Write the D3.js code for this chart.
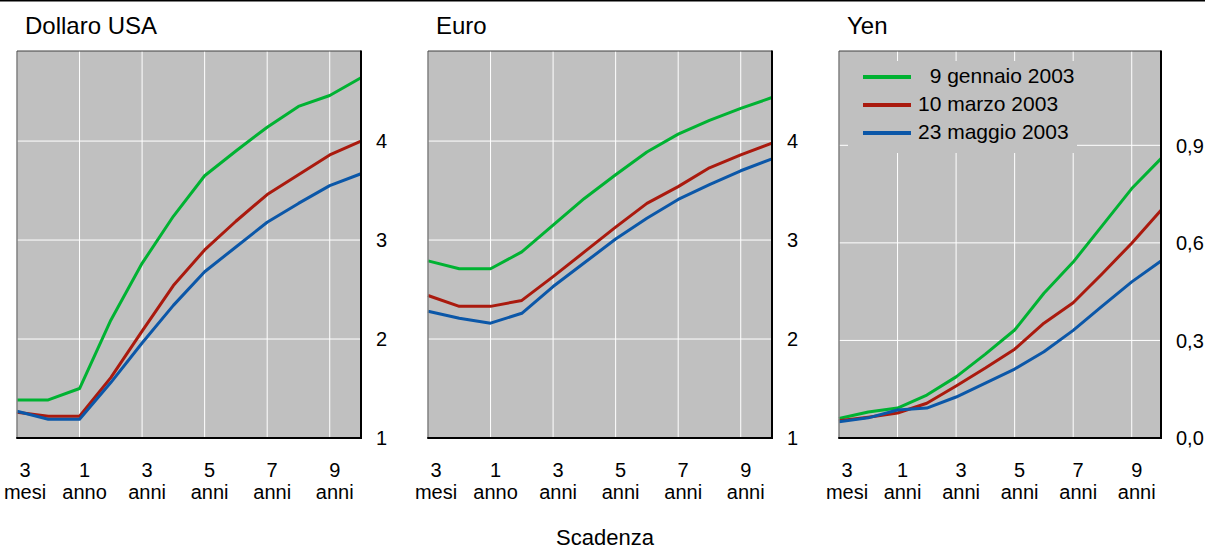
<!DOCTYPE html>
<html>
<head>
<meta charset="utf-8">
<script src="https://cdn.jsdelivr.net/npm/d3@7"></script>
<style>
  body { margin: 0; background: #fff; }
  svg { font-family: "Liberation Sans", Arial, sans-serif; }
</style>
</head>
<body>
<div id="chart"></div>
<script>
// maturities (12 points, equally spaced on the chart)
const maturities = ["3m", "6m", "1a", "2a", "3a", "4a", "5a", "6a", "7a", "8a", "9a", "10a"];
const tickIdx = [0, 2, 4, 6, 8, 10];
const tickTop = ["3", "1", "3", "5", "7", "9"];
const tickBottomUsd = ["mesi", "anno", "anni", "anni", "anni", "anni"];
const tickBottomYen = ["mesi", "anni", "anni", "anni", "anni", "anni"];

const dates = ["\u20079 gennaio 2003", "10 marzo 2003", "23 maggio 2003"];
const colors = ["#00b232", "#aa1a0e", "#0b57a8"];

// Dollaro USA
const usdJan = [1.385, 1.385, 1.50, 2.19, 2.765, 3.24, 3.65, 3.90, 4.14, 4.35, 4.46, 4.64];
const usdMar = [1.26, 1.22, 1.22, 1.61, 2.08, 2.54, 2.90, 3.19, 3.46, 3.66, 3.86, 4.00];
const usdMay = [1.27, 1.19, 1.19, 1.56, 1.96, 2.34, 2.68, 2.93, 3.18, 3.37, 3.55, 3.67];

// Euro
const eurJan = [2.79, 2.71, 2.71, 2.88, 3.15, 3.42, 3.66, 3.89, 4.07, 4.21, 4.33, 4.44];
const eurMar = [2.44, 2.33, 2.33, 2.39, 2.63, 2.88, 3.13, 3.37, 3.54, 3.73, 3.86, 3.98];
const eurMay = [2.28, 2.21, 2.16, 2.26, 2.53, 2.77, 3.01, 3.22, 3.41, 3.56, 3.70, 3.82];

// Yen
const yenJan = [0.060, 0.080, 0.092, 0.132, 0.188, 0.258, 0.332, 0.445, 0.541, 0.654, 0.767, 0.859];
const yenMar = [0.053, 0.064, 0.077, 0.107, 0.160, 0.215, 0.273, 0.353, 0.416, 0.506, 0.599, 0.700];
const yenMay = [0.050, 0.062, 0.086, 0.092, 0.126, 0.169, 0.212, 0.265, 0.331, 0.406, 0.480, 0.544];

const usdTicks = [1, 2, 3, 4];
const eurTicks = [1, 2, 3, 4];
const yenTicks = [0, 0.3, 0.6, 0.9];

const panels = [
  { title: "Dollaro USA", series: [usdJan, usdMar, usdMay], domain: [1, 4.91], ticks: usdTicks,
    fmt: d3.format("d"), bottom: tickBottomUsd, left: 17, width: 344 },
  { title: "Euro", series: [eurJan, eurMar, eurMay], domain: [1, 4.91], ticks: eurTicks,
    fmt: d3.format("d"), bottom: tickBottomUsd, left: 428, width: 344 },
  { title: "Yen", series: [yenJan, yenMar, yenMay], domain: [0, 1.19], ticks: yenTicks,
    fmt: d => d3.format(".1f")(d).replace(".", ","), bottom: tickBottomYen, left: 839, width: 322, legend: true }
];

const W = 1205, H = 551;
const plotTop = 51, plotBottom = 438;

const svg = d3.select("#chart").append("svg")
  .attr("width", W)
  .attr("height", H);

// top rule
svg.append("line")
  .attr("x1", 0).attr("x2", W).attr("y1", 0.75).attr("y2", 0.75)
  .attr("stroke", "#000").attr("stroke-width", 1.5);

panels.forEach(p => {
  const g = svg.append("g");
  const x = d3.scalePoint().domain(maturities).range([p.left, p.left + p.width]);
  const y = d3.scaleLinear().domain(p.domain).range([plotBottom, plotTop]);

  g.append("rect")
    .attr("x", p.left).attr("y", plotTop)
    .attr("width", p.width).attr("height", plotBottom - plotTop)
    .attr("fill", "#c0c0c0");

  // grid
  g.selectAll(".vgrid").data(tickIdx.slice(1)).enter().append("line")
    .attr("x1", i => x(maturities[i])).attr("x2", i => x(maturities[i]))
    .attr("y1", plotTop).attr("y2", plotBottom)
    .attr("stroke", "#fff").attr("stroke-width", 1);
  g.selectAll(".hgrid").data(p.ticks.slice(1)).enter().append("line")
    .attr("x1", p.left).attr("x2", p.left + p.width)
    .attr("y1", d => y(d)).attr("y2", d => y(d))
    .attr("stroke", "#fff").attr("stroke-width", 1);

  // legend box covers the grid
  if (p.legend) {
    const lg = g.append("g");
    lg.append("rect")
      .attr("x", p.left + 9).attr("y", 61)
      .attr("width", 229).attr("height", 92)
      .attr("fill", "#c0c0c0");
    dates.forEach((d, i) => {
      const ly = 77 + i * 28;
      lg.append("line")
        .attr("x1", p.left + 24).attr("x2", p.left + 72)
        .attr("y1", ly).attr("y2", ly)
        .attr("stroke", colors[i]).attr("stroke-width", 4);
      lg.append("text")
        .attr("x", p.left + 79).attr("y", ly + 6)
        .attr("font-size", 21).attr("fill", "#000")
        .text(d);
    });
  }

  // lines
  const line = d3.line().x((d, i) => x(maturities[i])).y(d => y(d));
  p.series.forEach((s, i) => {
    g.append("path")
      .datum(s)
      .attr("d", line)
      .attr("fill", "none")
      .attr("stroke", colors[i])
      .attr("stroke-width", 3)
      .attr("stroke-linejoin", "round");
  });

  // frame
  g.append("line").attr("x1", p.left).attr("x2", p.left).attr("y1", plotTop).attr("y2", plotBottom)
    .attr("stroke", "#808080").attr("stroke-width", 1.5);
  g.append("line").attr("x1", p.left).attr("x2", p.left + p.width).attr("y1", plotTop).attr("y2", plotTop)
    .attr("stroke", "#404040").attr("stroke-width", 1);
  g.append("line").attr("x1", p.left + p.width).attr("x2", p.left + p.width).attr("y1", plotTop - 0.5).attr("y2", plotBottom + 1)
    .attr("stroke", "#000").attr("stroke-width", 2);
  g.append("line").attr("x1", p.left - 0.75).attr("x2", p.left + p.width + 1).attr("y1", plotBottom).attr("y2", plotBottom)
    .attr("stroke", "#000").attr("stroke-width", 2);

  // title
  g.append("text")
    .attr("x", p.left + 8).attr("y", 34)
    .attr("font-size", 24).attr("fill", "#000")
    .text(p.title);

  // y tick labels on the right
  g.selectAll(".ytick").data(p.ticks).enter().append("text")
    .attr("x", p.left + p.width + 15)
    .attr("y", d => y(d))
    .attr("dy", "0.36em")
    .attr("font-size", 20).attr("fill", "#000")
    .text(p.fmt);

  // x tick labels (two lines)
  tickIdx.forEach((idx, k) => {
    const cx = x(maturities[idx]) + (k === 0 ? 8 : 5);
    const t = g.append("text")
      .attr("text-anchor", "middle")
      .attr("font-size", 20).attr("fill", "#000");
    t.append("tspan").attr("x", cx).attr("y", 477).text(tickTop[k]);
    t.append("tspan").attr("x", cx).attr("y", 499).text(p.bottom[k]);
  });
});

svg.append("text")
  .attr("x", 605).attr("y", 545)
  .attr("text-anchor", "middle")
  .attr("font-size", 22).attr("fill", "#000")
  .text("Scadenza");
</script>
</body>
</html>
